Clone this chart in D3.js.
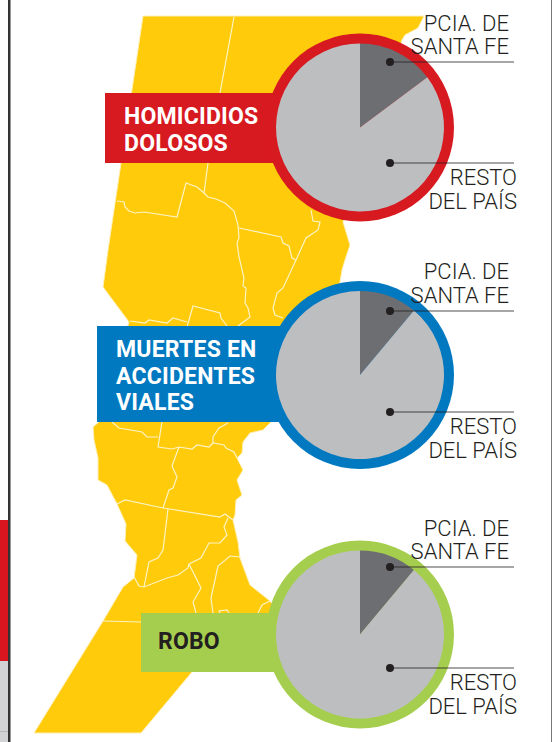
<!DOCTYPE html>
<html lang="es">
<head>
<meta charset="utf-8">
<title>Santa Fe</title>
<script src="https://cdn.jsdelivr.net/npm/d3@7"></script>
<style>
  html, body { margin: 0; padding: 0; background: #fff; }
  svg { display: block; }
</style>
</head>
<body>
<div id="viz"></div>
<script>
// Valores (% del total)
const categories = ['HOMICIDIOS DOLOSOS', 'MUERTES EN ACCIDENTES VIALES', 'ROBO'];
const sliceNames = ['PCIA. DE SANTA FE', 'RESTO DEL PAÍS'];
const santaFe = [14.8, 11.1, 11.1];
const restoPais = [85.2, 88.9, 88.9];

// Contorno de la provincia y limites de departamentos
const mapOutline = [[143,16],[424,16],[422,20],[418,28],[405,35],[402,40],[380,120],[343,222],[350,245],[345,260],[342,270],[340,282],[330,350],[270,423],[263,430],[250,433],[243,442],[242,453],[237,458],[243,470],[237,480],[242,495],[236,500],[235,515],[233,520],[238,542],[240,558],[250,585],[270,601],[300,640],[192,672],[141,733],[34,733],[103,621],[123,587],[134,578],[137,555],[125,541],[126,524],[117,504],[107,485],[98,480],[98,458],[94,440],[93,427],[100,421],[129,322],[103,287],[108,250]];
const mapBorders = [
  [[234,17],[220,93],[208,163],[204,193]],
  [[117,201],[124,202],[125,207],[129,211],[135,213],[144,212],[177,217],[186,183],[197,187],[204,193],[208,197],[216,199],[225,203],[234,211],[238,225],[239,238],[237,243],[239,257],[244,278],[243,286],[246,288],[245,303],[248,308],[250,317],[238,326]],
  [[239,228],[281,237],[283,243],[289,246],[292,258],[296,260]],
  [[311,210],[313,221],[320,222],[318,230],[306,238],[296,260],[283,288],[277,293],[273,308],[275,315],[283,318]],
  [[130,321],[145,323],[149,320],[167,323],[173,318],[187,322]],
  [[187,327],[193,306],[220,313],[221,318],[227,326]],
  [[112,422],[119,428],[142,432],[147,437],[158,437]],
  [[162,422],[158,447],[172,449],[179,447],[192,449],[197,445],[209,447],[213,443],[224,445],[226,448],[234,452],[237,458]],
  [[228,423],[219,428],[213,437],[213,443]],
  [[179,447],[172,466],[177,477],[173,488],[169,490],[163,508]],
  [[117,504],[125,500],[163,508],[220,517],[225,514],[233,520]],
  [[168,509],[163,550],[158,558],[149,562],[144,587]],
  [[134,577],[139,586],[144,587],[167,578],[178,575],[188,568],[189,564],[201,558],[209,543],[220,543],[227,535],[224,527],[228,518]],
  [[189,564],[201,588],[193,602],[196,613]],
  [[240,557],[230,556],[218,566],[211,598],[213,613]],
  [[220,613],[219,611],[227,610],[229,613]],
  [[270,601],[262,605],[258,613]],
  [[103,621],[141,622]]
];

const config = {
  width: 553,
  height: 742,
  cx: 360,
  radius: 84,
  ring: 10,
  dotX: 390,
  lineEnd: 514,
  colors: { santaFe: '#6d6e71', resto: '#bcbec0', map: '#ffcb0a', ink: '#231f20' }
};

// Posicion de cada panel
const panels = [
  { cy: 127.5, color: '#d71920', textColor: '#fff', box: [105, 93, 175, 70], textX: 124, lines: ['HOMICIDIOS', 'DOLOSOS'], base: [124, 151], dots: [62, 163], upper: [31, 54], lower: [185, 209] },
  { cy: 375, color: '#0079c1', textColor: '#fff', box: [97, 326, 183, 96], textX: 116, lines: ['MUERTES EN', 'ACCIDENTES', 'VIALES'], base: [357, 384, 410], dots: [311, 412], upper: [279, 303], lower: [434, 458] },
  { cy: 634.5, color: '#a6ce4e', textColor: '#231f20', box: [141, 613, 139, 59], textX: 158, lines: ['ROBO'], base: [649], dots: [567, 668], upper: [536, 559], lower: [690, 714] }
];

const svg = d3.select('#viz').append('svg')
  .attr('width', config.width)
  .attr('height', config.height);

// Bordes de la pagina
svg.append('rect').attr('x', 0).attr('y', 520).attr('width', 8).attr('height', 141).attr('fill', '#d9161f');
svg.append('rect').attr('x', 0).attr('y', 661).attr('width', 8).attr('height', 81).attr('fill', '#d1d3d4');
svg.append('rect').attr('x', 0).attr('y', 731).attr('width', 8).attr('height', 1).attr('fill', '#b5b7b9');
svg.append('rect').attr('x', 8).attr('y', 0).attr('width', 2.5).attr('height', 742).attr('fill', '#333');
svg.append('rect').attr('x', 551).attr('y', 0).attr('width', 1).attr('height', 742).attr('fill', '#777');

// Mapa
const line = d3.line();
const map = svg.append('g');
map.append('path')
  .attr('d', line(mapOutline) + 'Z')
  .attr('fill', config.colors.map)
  .attr('stroke', '#fff0b8')
  .attr('stroke-width', 1);
map.selectAll('.border')
  .data(mapBorders)
  .enter().append('path')
  .attr('class', 'border')
  .attr('d', d => line(d))
  .attr('fill', 'none')
  .attr('stroke', '#fff3c4')
  .attr('stroke-width', 1.2);

const pie = d3.pie().sort(null).value(d => d);
const arc = d3.arc().innerRadius(0).outerRadius(config.radius);

panels.forEach((p, i) => {
  const g = svg.append('g').attr('class', 'panel');

  // Rotulo
  g.append('rect')
    .attr('x', p.box[0]).attr('y', p.box[1])
    .attr('width', p.box[2]).attr('height', p.box[3])
    .attr('fill', p.color);
  g.selectAll('.title')
    .data(p.lines)
    .enter().append('text')
    .attr('class', 'title')
    .attr('x', p.textX)
    .attr('y', (d, j) => p.base[j])
    .attr('fill', p.textColor)
    .attr('font-family', 'Roboto')
    .attr('font-weight', 700)
    .attr('font-size', 23)
    .attr('letter-spacing', 0.2)
    .text(d => d);

  // Torta
  g.append('circle')
    .attr('cx', config.cx).attr('cy', p.cy)
    .attr('r', config.radius + config.ring)
    .attr('fill', p.color);
  g.append('g')
    .attr('transform', `translate(${config.cx},${p.cy})`)
    .selectAll('path')
    .data(pie([santaFe[i], restoPais[i]]))
    .enter().append('path')
    .attr('d', arc)
    .attr('fill', (d, j) => j === 0 ? config.colors.santaFe : config.colors.resto);

  // Lineas guia
  p.dots.forEach(y => {
    g.append('line')
      .attr('x1', config.dotX).attr('x2', config.lineEnd)
      .attr('y1', y).attr('y2', y)
      .attr('stroke', '#231f20')
      .attr('stroke-opacity', 0.8)
      .attr('stroke-width', 1.2);
    g.append('circle')
      .attr('cx', config.dotX).attr('cy', y)
      .attr('r', 4)
      .attr('fill', config.colors.ink);
  });

  // Etiquetas
  const labels = [
    { x: 509, ys: p.upper, rows: ['PCIA. DE', 'SANTA FE'] },
    { x: 517, ys: p.lower, rows: ['RESTO', 'DEL PAÍS'] }
  ];
  labels.forEach(l => {
    g.selectAll(null)
      .data(l.rows)
      .enter().append('text')
      .attr('x', l.x)
      .attr('y', (d, j) => l.ys[j])
      .attr('text-anchor', 'end')
      .attr('fill', config.colors.ink)
      .attr('font-family', 'Roboto')
      .attr('font-weight', 300)
      .attr('font-size', 22)
      .text(d => d);
  });
});
</script>
</body>
</html>
